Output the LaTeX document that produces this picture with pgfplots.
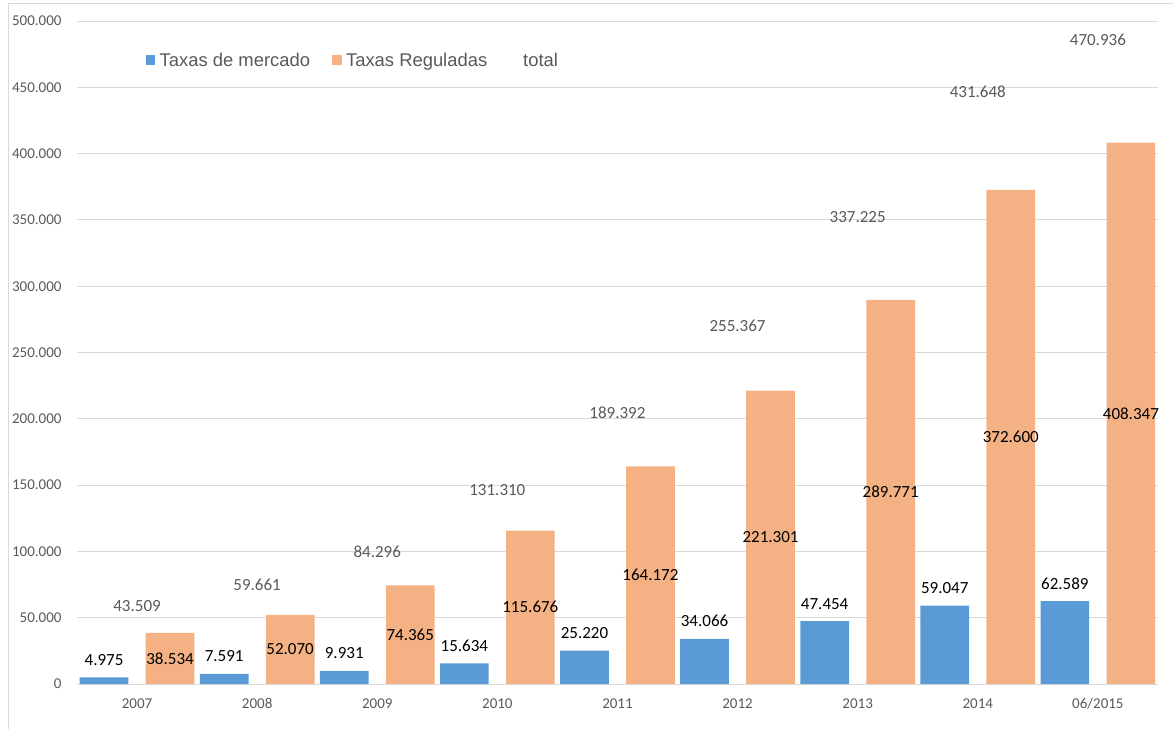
\documentclass[border=0pt]{standalone}
\usepackage{fontspec}
\setmainfont{Carlito}
\newfontfamily\arialfont{Liberation Sans}
\usepackage{pgfplots}
\usepackage{pgfplotstable}
\pgfplotsset{compat=1.18}
\definecolor{cblue}{HTML}{5B9BD5}
\definecolor{corange}{HTML}{F4B183}
\definecolor{txtgray}{HTML}{595959}
\definecolor{gridgray}{HTML}{D9D9D9}

% values in thousands (labels shown with '.' as thousands separator)
\pgfplotstableread{
x mercado reguladas total
0 4.975   38.534  43.509
1 7.591   52.070  59.661
2 9.931   74.365  84.296
3 15.634  115.676 131.310
4 25.220  164.172 189.392
5 34.066  221.301 255.367
6 47.454  289.771 337.225
7 59.047  372.600 431.648
8 62.589  408.347 470.936
}\datatable

\begin{document}
\begin{tikzpicture}
\useasboundingbox (0,0) rectangle (1173pt,729pt);
\draw[gridgray, line width=1pt] (8pt,0pt) -- (8pt,725pt) -- (1173pt,725pt);
\begin{axis}[
  at={(77pt,45pt)}, anchor=south west,
  scale only axis, width=1081pt, height=663pt,
  xmin=-0.5, xmax=8.5, ymin=0, ymax=500,
  xtick={0,...,8},
  xticklabels={2007,2008,2009,2010,2011,2012,2013,2014,06/2015},
  ytick={0,50,...,500},
  yticklabels={0,50.000,100.000,150.000,200.000,250.000,300.000,350.000,400.000,450.000,500.000},
  axis lines*=left,
  y axis line style={draw=none},
  x axis line style={gridgray, line width=1pt},
  major tick length=0pt,
  ymajorgrids,
  grid style={gridgray, line width=1pt},
  ticklabel style={font=\fontsize{15}{18}\selectfont, text=txtgray},
  yticklabel style={anchor=east, inner sep=0pt, xshift=-15.3pt},
  xticklabel style={anchor=base, inner sep=0pt, yshift=-24pt},
  /pgf/number format/.cd, fixed, fixed zerofill, precision=3, 1000 sep={}, assume math mode=true,
  /pgfplots/.cd,
  legend columns=3,
  legend style={draw=none, fill=none, inner sep=0pt, outer sep=0pt,
    at={(0.0636,0.941)}, anchor=west,
    font=\arialfont\fontsize{18.4}{22}\selectfont, text=txtgray,
    nodes={inner sep=0pt},
    /tikz/every even column/.append style={column sep=22pt},
    /tikz/every odd column/.append style={column sep=4.3pt}},
  clip=false,
]
\addplot[fill=cblue, draw=none, ybar, bar width=48.7pt, bar shift=-33pt,
  legend image code/.code={\fill[cblue] (0pt,-4.85pt) rectangle (9.7pt,4.85pt);}]
  table[x=x, y=mercado]{\datatable};
\addlegendentry{Taxas de mercado}
\addplot[fill=corange, draw=none, ybar, bar width=48.7pt, bar shift=33pt,
  legend image code/.code={\fill[corange] (0pt,-4.85pt) rectangle (9.7pt,4.85pt);}]
  table[x=x, y=reguladas]{\datatable};
\addlegendentry{Taxas Reguladas}
\addplot[draw=none, mark=none,
  nodes near coords,
  nodes near coords style={anchor=center, yshift=20pt, text=txtgray, font=\fontsize{17}{20}\selectfont},
  legend image code/.code={\path (0pt,-4.85pt) rectangle (9.7pt,4.85pt);}]
  table[x=x, y=total]{\datatable};
\addlegendentry{total}
% data labels
\addplot[draw=none, mark=none, forget plot,
  nodes near coords,
  nodes near coords style={anchor=base, xshift=-33pt, yshift=12pt, text=black, font=\fontsize{17}{20}\selectfont}]
  table[x=x, y=mercado]{\datatable};
\addplot[draw=none, mark=none, forget plot,
  visualization depends on={y \as \rawy},
  nodes near coords,
  nodes near coords style={anchor=center, xshift=33pt, yshift={-0.663pt*\rawy}, text=black, font=\fontsize{17}{20}\selectfont}]
  table[x=x, y=reguladas]{\datatable};
\end{axis}
\end{tikzpicture}
\end{document}
